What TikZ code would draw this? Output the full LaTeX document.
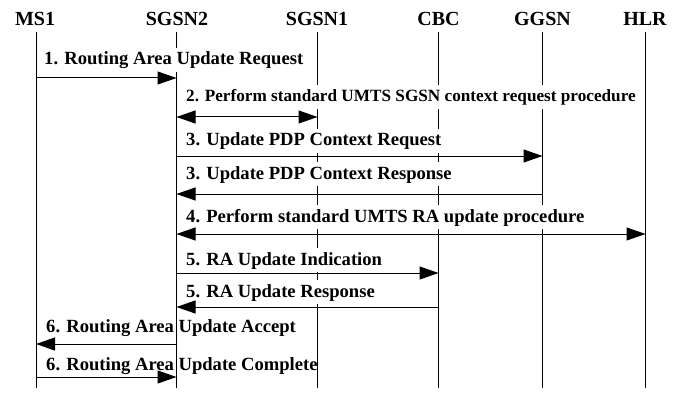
\documentclass[tikz,border=0pt]{standalone}
\usepackage{fontspec}
\setmainfont{Liberation Serif}
\usetikzlibrary{arrows.meta}
\begin{document}
\begin{tikzpicture}[x=1pt,y=-1pt,
  hdr/.style={font=\fontsize{20}{22}\selectfont\bfseries, anchor=base, inner sep=0pt},
  life/.style={line width=1pt},
  tip/.style={},
  msg/.style={line width=1pt, -{Triangle[length=19pt,width=13pt]}},
  bimsg/.style={line width=1pt, {Triangle[length=19pt,width=13pt]}-{Triangle[length=19pt,width=13pt]}},
  plain/.style={line width=1pt},
  lbl/.style={font=\fontsize{18.6}{20}\selectfont\bfseries, anchor=base west, fill=white, inner xsep=1pt, inner ysep=3pt, text height=14pt, text depth=4pt},
  lblnf/.style={lbl, fill=none}]
\useasboundingbox (0,0) rectangle (685,393);
% headers
\node[hdr] (MS1) at (35,26) {MS1};
\node[hdr] (SGSN2) at (177,26) {SGSN2};
\node[hdr] (SGSN1) at (317,26) {SGSN1};
\node[hdr] (CBC) at (438.5,26) {CBC};
\node[hdr] (GGSN) at (542.5,26) {GGSN};
\node[hdr] (HLR) at (645,26) {HLR};
% lifeline ends
\coordinate (MS1t) at (36,32);   \coordinate (MS1b) at (36,388);
\coordinate (SGSN2t) at (176.5,32); \coordinate (SGSN2b) at (176.5,388);
\coordinate (SGSN1t) at (317.5,32); \coordinate (SGSN1b) at (317.5,388);
\coordinate (CBCt) at (438.5,32);  \coordinate (CBCb) at (438.5,388);
\coordinate (GGSNt) at (542.5,32); \coordinate (GGSNb) at (542.5,388);
\coordinate (HLRt) at (645.5,32);  \coordinate (HLRb) at (645.5,388);
\foreach \n in {MS1,SGSN2,SGSN1,CBC,GGSN,HLR} \draw[life] (\n t) -- (\n b);
% labels
\node[lbl] (l1) at (43,65) {1. Routing Area Update Request};
\node[lbl, font=\fontsize{17.2}{20}\selectfont\bfseries] (l2) at (185,102) {2. Perform standard UMTS SGSN context request procedure};
\node[lbl] (l3a) at (185,146) {3. Update PDP Context Request};
\node[lbl] (l3b) at (185,179) {3. Update PDP Context Response};
\node[lbl] (l4) at (185,222) {4. Perform standard UMTS RA update procedure};
\node[lbl] (l5a) at (185,265) {5. RA Update Indication};
\node[lbl] (l5b) at (185,297) {5. RA Update Response};
\node[lblnf] (l6a) at (45,332) {6. Routing Area Update Accept};
\node[lblnf] (l6b) at (45,370) {6. Routing Area Update Complete};
% message points
\coordinate (m1s) at (MS1t |- 0,78);   \coordinate (m1e) at (SGSN2t |- 0,78);
\coordinate (m2s) at (SGSN2t |- 0,117); \coordinate (m2e) at (SGSN1t |- 0,117);
\coordinate (m3s) at (SGSN2t |- 0,156); \coordinate (m3e) at (GGSNt |- 0,156);
\coordinate (m4s) at (GGSNt |- 0,194);  \coordinate (m4e) at (SGSN2t |- 0,194);
\coordinate (m5s) at (SGSN2t |- 0,234); \coordinate (m5e) at (HLRt |- 0,234);
\coordinate (m6s) at (SGSN2t |- 0,273); \coordinate (m6e) at (CBCt |- 0,273);
\coordinate (m7s) at (CBCt |- 0,307);   \coordinate (m7e) at (SGSN2t |- 0,307);
\coordinate (m8s) at (SGSN2t |- 0,344); \coordinate (m8e) at (MS1t |- 0,344);
\coordinate (m9s) at (MS1t |- 0,377);   \coordinate (m9e) at (SGSN2t |- 0,377);
\draw[msg] (m1s) -- (m1e);
\draw[bimsg] (m2s) -- (m2e);
\draw[msg] (m3s) -- (m3e);
\draw[msg] (m4s) -- (m4e);
\draw[bimsg] (m5s) -- (m5e);
\draw[msg] (m6s) -- (m6e);
\draw[msg] (m7s) -- (m7e);
\draw[msg] (m8s) -- (m8e);
\draw[msg] (m9s) -- (m9e);
\end{tikzpicture}
\end{document}
